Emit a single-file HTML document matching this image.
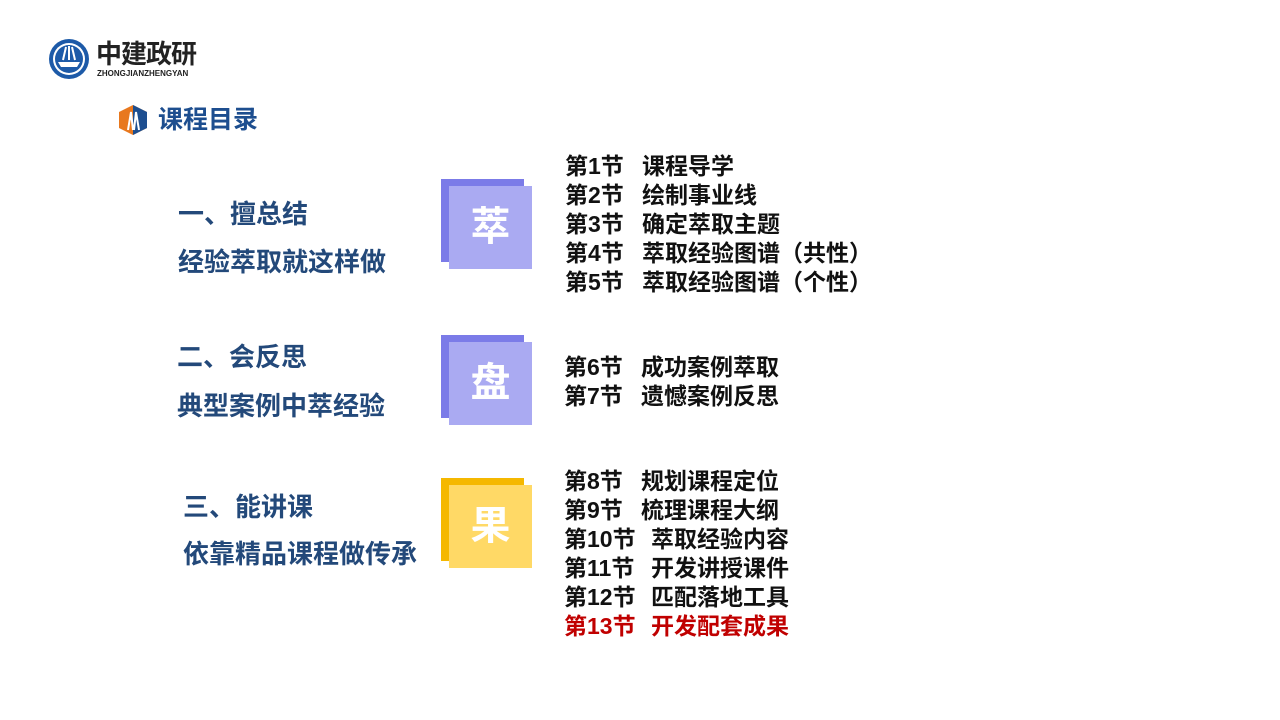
<!DOCTYPE html>
<html><head><meta charset="utf-8"><style>
body{margin:0;width:1280px;height:720px;background:#fff;position:relative;overflow:hidden;font-family:"Liberation Sans","Noto Sans CJK SC",sans-serif;}
.a{position:absolute;white-space:nowrap;font-weight:bold;}
.l{font-size:26px;color:#23497a;line-height:30px;}
.r{font-size:23px;color:#111;line-height:29px;}
.bx{position:absolute;width:83px;height:83px;}
.ch{position:absolute;width:83px;height:83px;line-height:83px;text-align:center;color:#fff;font-size:40px;font-weight:bold;}
</style></head><body>
<svg style="position:absolute;left:48px;top:38px" width="42" height="42" viewBox="0 0 42 42">
<circle cx="21" cy="21" r="20" fill="#1d5aa8"/><circle cx="21" cy="21" r="16" fill="#fff"/>
<circle cx="21" cy="21" r="14" fill="#1d5aa8"/>
<path d="M10 24 L32 24 L29 29 L13 29 Z" fill="#fff"/>
<path d="M15 22 L18 9 M21 22 L21 8 M27 22 L24 9" stroke="#fff" stroke-width="2"/>
</svg>
<div class="a" style="left:96px;top:38px;font-size:26px;color:#222;line-height:32px;letter-spacing:-1px">中建政研</div>
<div class="a" style="left:97px;top:69px;font-size:8px;color:#222;line-height:9px">ZHONGJIANZHENGYAN</div>
<svg style="position:absolute;left:118px;top:104px" width="30" height="32" viewBox="0 0 30 32">
<polygon points="15,1 29,8 29,24 15,31 1,24 1,8" fill="#e8781e"/>
<path d="M15 1 L29 8 L29 24 L15 31 Z" fill="#1d4e8f"/>
<path d="M10 26 L13 8 L15 26 M16 26 L18 8 L21 26" stroke="#fff" stroke-width="2" fill="none"/>
</svg>
<div class="a" style="left:158px;top:103px;font-size:25px;color:#1d4e8f;line-height:34px">课程目录</div>

<div class="a l" style="left:178px;top:199px">一、擅总结</div>
<div class="a l" style="left:178px;top:247px">经验萃取就这样做</div>
<div class="a l" style="left:177px;top:342px">二、会反思</div>
<div class="a l" style="left:177px;top:391px">典型案例中萃经验</div>
<div class="a l" style="left:183px;top:492px">三、能讲课</div>
<div class="a l" style="left:183px;top:539px">依靠精品课程做传承</div>

<div class="bx" style="left:441px;top:179px;background:#7b7be8"></div>
<div class="bx" style="left:449px;top:186px;background:#aaaaf2"></div>
<div class="ch" style="left:449px;top:186px">萃</div>
<div class="bx" style="left:441px;top:335px;background:#7b7be8"></div>
<div class="bx" style="left:449px;top:342px;background:#aaaaf2"></div>
<div class="ch" style="left:449px;top:342px">盘</div>
<div class="bx" style="left:441px;top:478px;background:#f5b800"></div>
<div class="bx" style="left:449px;top:485px;background:#ffd966"></div>
<div class="ch" style="left:449px;top:485px">果</div>

<div class="a r" style="left:565px;top:152px">第1节<br>第2节<br>第3节<br>第4节<br>第5节</div>
<div class="a r" style="left:642px;top:152px">课程导学<br>绘制事业线<br>确定萃取主题<br>萃取经验图谱（共性）<br>萃取经验图谱（个性）</div>
<div class="a r" style="left:564px;top:353px">第6节<br>第7节</div>
<div class="a r" style="left:641px;top:353px">成功案例萃取<br>遗憾案例反思</div>
<div class="a r" style="left:564px;top:467px">第8节<br>第9节<br>第10节<br>第11节<br>第12节<br><span style="color:#c00000">第13节</span></div>
<div class="a r" style="left:641px;top:467px">规划课程定位<br>梳理课程大纲</div>
<div class="a r" style="left:651px;top:525px">萃取经验内容<br>开发讲授课件<br>匹配落地工具<br><span style="color:#c00000">开发配套成果</span></div>
</body></html>
